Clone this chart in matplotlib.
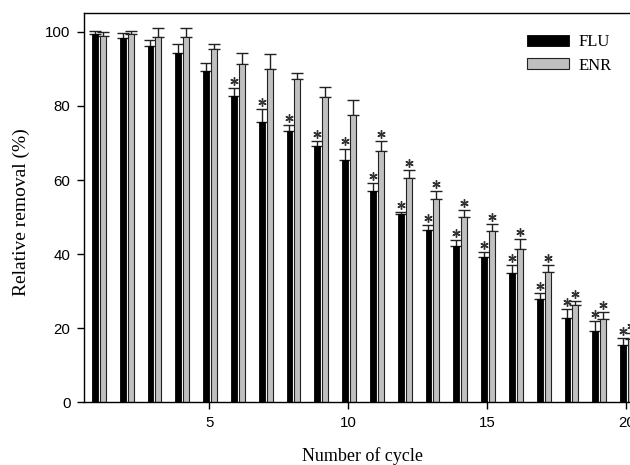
import numpy as np
import matplotlib
matplotlib.use('Agg')
import matplotlib.pyplot as plt

# removal per cycle (mean and upper error)
cycles = np.arange(1, 21)
flu = [99.4, 98.3, 96.3, 94.2, 89.5, 82.6, 75.7, 73.3, 69.1, 65.3,
       57.1, 50.7, 46.4, 42.1, 39.1, 35.0, 27.9, 22.7, 19.2, 15.6]
flu_err = [0.9, 1.5, 1.6, 2.6, 2.1, 2.2, 3.5, 1.5, 1.5, 3.2,
           2.2, 0.6, 1.4, 1.6, 1.4, 2.1, 1.6, 2.4, 2.7, 1.7]
enr = [99.0, 99.3, 98.7, 98.7, 95.4, 91.4, 90.1, 87.2, 82.3, 77.6,
       67.9, 60.5, 55.0, 50.0, 46.3, 41.5, 35.2, 26.3, 22.5, 17.2]
enr_err = [0.9, 1.0, 2.3, 2.3, 1.3, 3.0, 3.9, 1.8, 2.9, 3.9,
           2.5, 2.2, 1.9, 1.9, 1.9, 2.5, 1.9, 1.0, 1.8, 1.6]
# significance marks (*)
flu_sig = [0, 0, 0, 0, 0, 1, 1, 1, 1, 1, 1, 1, 1, 1, 1, 1, 1, 1, 1, 1]
enr_sig = [0, 0, 0, 0, 0, 0, 0, 0, 0, 0, 1, 1, 1, 1, 1, 1, 1, 1, 1, 1]

serif = 'Liberation Serif'
sans = 'Liberation Sans'

fig = plt.figure(figsize=(6.3, 4.65), dpi=100)
ax = fig.add_axes([84.3/630, 62.7/465, 556/630, 389/465])

w = 0.21
x_flu = cycles - 0.12
x_enr = cycles + 0.165
flu = np.array(flu); enr = np.array(enr)
flu_err = np.array(flu_err); enr_err = np.array(enr_err)

ax.bar(x_flu, flu, width=w, color='black', edgecolor='black', linewidth=0.6, label='FLU', zorder=2)
ax.bar(x_enr, enr, width=w, color='#c0c0c0', edgecolor='#222222', linewidth=0.8, label='ENR', zorder=2)
ax.errorbar(x_flu, flu, yerr=[np.zeros(20), flu_err], fmt='none', ecolor='#222222',
            elinewidth=1.0, capsize=4.2, capthick=1.0, zorder=1)
ax.errorbar(x_enr, enr, yerr=[np.zeros(20), enr_err], fmt='none', ecolor='#222222',
            elinewidth=1.0, capsize=4.2, capthick=1.0, zorder=1)

fs = np.array(flu_sig, dtype=bool)
es = np.array(enr_sig, dtype=bool)
star_off = 1.9
ax.plot(x_flu[fs], (flu + flu_err)[fs] + star_off, linestyle='none', marker=(6, 2, 0),
        markersize=6, markeredgewidth=1.0, color='#333333')
ax.plot(x_enr[es], (enr + enr_err)[es] + star_off, linestyle='none', marker=(6, 2, 0),
        markersize=6, markeredgewidth=1.0, color='#333333')

ax.set_xlim(0.5, 20.5)
ax.set_ylim(0, 105)
ax.set_xticks([5, 10, 15, 20])
ax.set_yticks(np.arange(0, 101, 20))
ax.tick_params(axis='both', direction='out', length=5, width=1, labelsize=10.8, pad=5)
for lab in ax.get_xticklabels() + ax.get_yticklabels():
    lab.set_fontfamily(sans)
for s in ax.spines.values():
    s.set_linewidth(1.0)
ax.spines['right'].set_visible(False)

ax.set_xlabel('Number of cycle', fontsize=13, family=serif, labelpad=12)
ax.set_ylabel('Relative removal (%)', fontsize=14, family=serif)
ax.yaxis.set_label_coords(-0.097, 0.49)

ax.legend(loc='upper left', bbox_to_anchor=(527/630, (465-34)/465), bbox_transform=fig.transFigure,
          frameon=False, prop={'family': serif, 'size': 12}, handlelength=2.5, handleheight=0.65,
          handletextpad=0.6, labelspacing=0.45, borderpad=0, borderaxespad=0)

fig.savefig('out.png', dpi=100)
